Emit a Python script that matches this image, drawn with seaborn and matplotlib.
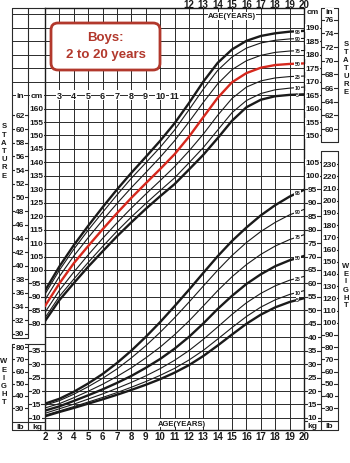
import numpy as np
import pandas as pd
import matplotlib
matplotlib.use("Agg")
import matplotlib.pyplot as plt
import seaborn as sns
from matplotlib import transforms
from matplotlib.lines import Line2D
from matplotlib.patches import FancyBboxPatch

sns.set_theme(style="white")
plt.rcParams["font.family"] = ["Liberation Sans", "DejaVu Sans"]

# ---------------- data ----------------
ages = list(range(2, 21))
percentiles = ["5", "10", "25", "50", "75", "90", "95"]

stature_p5 = [81.0, 88.8, 95.1, 101.2, 106.9, 112.5, 117.7, 122.7, 127.4, 131.9, 137.3, 142.8, 149.0, 155.5, 160.5, 163.3, 164.6, 165.1, 165.3]
stature_p10 = [82.2, 90.2, 96.6, 102.8, 108.7, 114.4, 119.7, 124.7, 129.5, 134.2, 139.8, 145.5, 152.0, 158.5, 163.0, 165.6, 167.0, 167.6, 168.0]
stature_p25 = [84.2, 92.4, 99.2, 105.6, 111.7, 117.5, 123.0, 128.2, 133.2, 138.4, 144.2, 150.5, 157.5, 163.8, 168.0, 170.3, 171.4, 171.9, 172.1]
stature_p50 = [86.6, 95.0, 102.5, 108.9, 115.1, 121.1, 126.8, 132.2, 137.5, 143.0, 149.5, 156.8, 164.0, 169.8, 173.2, 175.2, 176.2, 176.6, 176.8]
stature_p75 = [88.9, 97.6, 105.2, 112.0, 118.5, 124.7, 130.6, 136.2, 141.9, 148.0, 155.0, 162.3, 169.2, 174.5, 177.8, 179.8, 180.9, 181.4, 181.6]
stature_p90 = [91.0, 99.9, 107.7, 114.8, 121.4, 127.9, 134.1, 139.8, 145.6, 152.0, 159.5, 167.2, 174.2, 179.2, 182.5, 184.4, 185.4, 185.9, 186.1]
stature_p95 = [92.3, 101.3, 109.2, 116.4, 123.3, 129.9, 136.1, 142.0, 148.0, 154.5, 162.0, 170.0, 177.0, 182.0, 185.2, 187.0, 188.0, 188.6, 188.9]

weight_p5 = [10.6, 12.2, 13.7, 15.3, 16.9, 18.6, 20.4, 22.3, 24.4, 26.8, 29.6, 33.0, 36.9, 41.0, 45.0, 48.4, 51.1, 53.1, 54.5]
weight_p10 = [11.0, 12.6, 14.2, 15.9, 17.6, 19.4, 21.4, 23.5, 25.8, 28.4, 31.5, 35.1, 39.3, 43.6, 47.7, 51.2, 53.9, 55.9, 57.3]
weight_p25 = [11.7, 13.4, 15.1, 17.0, 18.9, 21.0, 23.2, 25.6, 28.3, 31.4, 35.0, 39.2, 43.8, 48.5, 52.8, 56.3, 59.1, 61.2, 62.6]
weight_p50 = [12.7, 14.3, 16.3, 18.4, 20.6, 23.0, 25.6, 28.6, 31.9, 35.7, 40.1, 45.1, 50.5, 55.4, 59.8, 63.4, 66.4, 68.6, 70.2]
weight_p75 = [13.7, 15.3, 17.5, 19.9, 22.5, 25.4, 28.6, 32.3, 36.3, 40.9, 46.0, 51.6, 57.3, 62.5, 67.0, 70.8, 73.9, 76.3, 78.1]
weight_p90 = [14.7, 16.4, 18.8, 21.6, 24.7, 28.2, 32.3, 36.8, 41.8, 47.2, 53.0, 59.0, 64.9, 70.4, 75.2, 79.3, 82.7, 85.5, 87.5]
weight_p95 = [15.3, 17.1, 19.7, 22.8, 26.3, 30.4, 35.0, 40.1, 45.6, 51.5, 57.6, 63.9, 70.1, 75.8, 80.8, 85.3, 89.1, 92.3, 94.8]

stature_series = [stature_p5, stature_p10, stature_p25, stature_p50, stature_p75, stature_p90, stature_p95]
weight_series = [weight_p5, weight_p10, weight_p25, weight_p50, weight_p75, weight_p90, weight_p95]

left_cm_ticks = list(range(80, 161, 5))
left_in_ticks = list(range(30, 63, 2))
left_kg_ticks = list(range(10, 36, 5))
left_lb_ticks = list(range(30, 81, 10))
right_cm_ticks = list(range(150, 191, 5))
right_in_ticks = list(range(60, 77, 2))
right_kg_ticks = list(range(10, 106, 5))
right_lb_ticks = list(range(30, 231, 10))
mid_age_labels = list(range(3, 12))
top_age_labels = list(range(12, 21))
bottom_age_labels = list(range(2, 21))

# ---------------- layout ----------------
W, H = 350, 464
fig = plt.figure(figsize=(W / 100, H / 100), dpi=100)
fig.patch.set_facecolor("white")
L, R, T, B = 45, 304, 9, 431
ax = fig.add_axes([L / W, 1 - B / H, (R - L) / W, (B - T) / H])
ax2 = ax.twinx()

RED = "#d6281d"
DARKRED = "#b2382c"
INK = "#1a1a1a"
GRID = "#2a2a2a"

for p, vals in zip(percentiles, stature_series):
    thick = p in ("5", "50", "95")
    sns.lineplot(x=ages, y=vals, ax=ax, color=RED if p == "50" else INK,
                 linewidth=1.7 if thick else 0.8, zorder=4)
for p, vals in zip(percentiles, weight_series):
    thick = p in ("5", "50", "95")
    sns.lineplot(x=ages, y=vals, ax=ax2, color=INK,
                 linewidth=1.7 if thick else 0.8, zorder=4)

YLO, YHI = 40.5, 197.4
OFF = 35
ax.set_xlim(2, 20)
ax.set_ylim(YLO, YHI)
ax2.set_ylim(YLO - OFF, YHI - OFF)
ax.set_xticks(range(2, 21))
ax.set_yticks(range(45, 196, 5))
ax.grid(True, color=GRID, linewidth=0.7)
ax.set_axisbelow(True)
ax.tick_params(length=0, labelleft=False, labelbottom=False)
ax2.tick_params(length=0, labelright=False)
ax.set_xlabel(""); ax.set_ylabel(""); ax2.set_ylabel("")
for s in ax.spines.values():
    s.set_color(INK); s.set_linewidth(1.0)
for s in ax2.spines.values():
    s.set_visible(False)

# curve labels
for p, vals in zip(percentiles, stature_series):
    ax.text(19.55, np.interp(19.55, ages, vals), p, fontsize=3.8, fontweight="bold",
            ha="center", va="center", color=INK, zorder=6,
            bbox=dict(fc="white", ec="none", pad=0.15))
for p, vals in zip(percentiles, weight_series):
    ax2.text(19.55, np.interp(19.55, ages, vals), p, fontsize=3.8, fontweight="bold",
             ha="center", va="center", color=INK, zorder=6,
             bbox=dict(fc="white", ec="none", pad=0.15))

# ---------------- helpers ----------------
def fx(x):
    return x / W

def fy(y):
    return 1 - y / H

def fline(xs, ys, lw=0.8):
    fig.add_artist(Line2D([fx(x) for x in xs], [fy(y) for y in ys],
                          transform=fig.transFigure, lw=lw, color=GRID, zorder=5))

t_st = transforms.blended_transform_factory(fig.transFigure, ax.transData)
t_wt = transforms.blended_transform_factory(fig.transFigure, ax2.transData)

def scale_label(tr, x0, x1, val, text, fs=6):
    fig.add_artist(Line2D([fx(x0), fx(x1)], [val, val], transform=tr, lw=0.8, color=GRID, zorder=5))
    fig.text(fx((x0 + x1) / 2), val, text, transform=tr, ha="center", va="center",
             fontsize=fs, fontweight="bold", color=INK, zorder=6,
             bbox=dict(fc="white", ec="none", pad=0.2))

def ftext(x, y, s, fs=6, **kw):
    fig.text(fx(x), fy(y), s, ha="center", va="center", fontsize=fs, fontweight="bold",
             color=kw.pop("color", INK), zorder=7, **kw)

# ---------------- left columns ----------------
for v in range(165, 196, 5):
    fig.add_artist(Line2D([fx(12), fx(45)], [v, v], transform=t_st, lw=0.7, color=GRID, zorder=5))
fline([12, 12], [T, 339]); fline([28, 28], [T, 339])
fline([12, 45], [T, T]); fline([12, 28], [339, 339])
fline([12, 12], [345, B]); fline([28, 28], [345, B])
fline([12, 45], [345, 345]); fline([12, 45], [423, 423]); fline([12, 45], [B, B])

for v in left_in_ticks:
    scale_label(t_st, 12, 28, v * 2.54, str(v))
for v in left_cm_ticks:
    scale_label(t_st, 28, 45, v, str(v))
for v in left_lb_ticks:
    scale_label(t_wt, 12, 28, v * 0.45359, str(v))
for v in left_kg_ticks:
    scale_label(t_wt, 28, 45, v, str(v))

ftext(20, 97, "in", bbox=dict(fc="white", ec="none", pad=0.3))
ftext(37, 97, "cm", bbox=dict(fc="white", ec="none", pad=0.3))
ftext(20, 428, "lb")
ftext(37, 428, "kg")

for k, ch in enumerate("STATURE"):
    ftext(4, 127 + 8.2 * k, ch, fs=5.5)
for k, ch in enumerate("WEIGHT"):
    ftext(4, 362 + 8.2 * k, ch, fs=5.5)

# ---------------- right columns ----------------
fline([321, 321], [T, 143]); fline([338, 338], [T, 143])
fline([321, 338], [T, T]); fline([321, 338], [143, 143])
fline([321, 321], [152, B]); fline([338, 338], [152, B])
fline([321, 338], [152, 152]); fline([304, 338], [422, 422]); fline([304, 338], [B, B])

for v in right_cm_ticks:
    scale_label(t_st, 304, 321, v, str(v))
for v in right_in_ticks:
    scale_label(t_st, 321, 338, v * 2.54, str(v))
for v in right_kg_ticks:
    scale_label(t_wt, 304, 321, v, str(v))
for v in right_lb_ticks:
    scale_label(t_wt, 321, 338, v * 0.45359, str(v))

ftext(312.5, 13, "cm", bbox=dict(fc="white", ec="none", pad=0.3))
ftext(329.5, 13, "in", bbox=dict(fc="white", ec="none", pad=0.3))
ftext(312.5, 427, "kg")
ftext(329.5, 427, "lb")

for k, ch in enumerate("STATURE"):
    ftext(346, 45 + 8 * k, ch, fs=5.5)
for k, ch in enumerate("WEIGHT"):
    ftext(346, 266 + 8 * k, ch, fs=5.5)

# ---------------- age labels ----------------
t_age = transforms.blended_transform_factory(ax.transData, fig.transFigure)
for a in mid_age_labels:
    ax.text(a, 165, str(a), ha="center", va="center", fontsize=6.5, fontweight="bold",
            color=INK, zorder=7, bbox=dict(fc="white", ec="none", pad=0.3))
for a in top_age_labels:
    fig.text(a, fy(4.5), str(a), transform=t_age, ha="center", va="center",
             fontsize=7, fontweight="bold", color=INK)
for a in bottom_age_labels:
    fig.text(a, fy(437), str(a), transform=t_age, ha="center", va="center",
             fontsize=7, fontweight="bold", color=INK)

ftext(232, 17, "AGE(YEARS)", fs=5.5, bbox=dict(fc="white", ec="none", pad=0.3))
ftext(182, 424, "AGE(YEARS)", fs=5.5, bbox=dict(fc="white", ec="none", pad=0.3))

# ---------------- title box ----------------
box = FancyBboxPatch((51 / 100, (H - 71) / 100), 109 / 100, 47 / 100,
                     boxstyle="round,pad=0,rounding_size=0.07",
                     transform=fig.dpi_scale_trans, fc="white", ec=DARKRED, lw=2.0, zorder=8)
fig.add_artist(box)
fig.text(fx(105.5), fy(38), "Boys:", ha="center", va="center", fontsize=9.5,
         fontweight="bold", color=DARKRED, zorder=9)
fig.text(fx(105.5), fy(55), "2 to 20 years", ha="center", va="center", fontsize=9.5,
         fontweight="bold", color=DARKRED, zorder=9)

fig.savefig("out.png", dpi=100, facecolor="white")
